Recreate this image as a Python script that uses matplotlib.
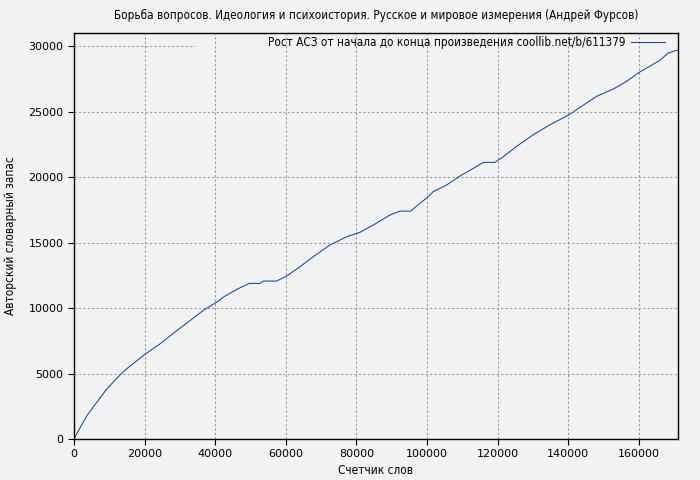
#!/usr/bin/env python3
"""Vocabulary growth chart: Fursov, 'Borba voprosov'."""

import matplotlib
matplotlib.use("Agg")
import matplotlib.pyplot as plt  # noqa: E402

# word counter vs. author's vocabulary
words = [
    0, 1890, 3780, 5660, 9440, 13220, 15100, 19820, 24540, 28320,
    33040, 36810, 40590, 42480, 46070, 49650, 52670, 53610, 57390, 60220,
    64000, 67770, 72490, 77210, 80990, 84770, 89490, 92320, 95340, 97980,
    100340, 101760, 105540, 109320, 113100, 115930, 119230, 121590, 125360, 130080,
    134800, 140270, 142350, 145180, 148010, 152730, 156500, 160090, 165950, 168300,
    171150,
]
vocab = [
    0, 940, 1830, 2520, 3870, 4940, 5400, 6410, 7300, 8110,
    9080, 9850, 10480, 10860, 11420, 11880, 11880, 12060, 12060, 12440,
    13150, 13920, 14810, 15440, 15780, 16340, 17100, 17400, 17400, 17990,
    18500, 18880, 19390, 20080, 20660, 21120, 21120, 21550, 22340, 23230,
    23990, 24760, 25140, 25650, 26160, 26720, 27300, 27990, 28910, 29470,
    29720,
]

title = "Борьба вопросов. Идеология и психоистория. Русское и мировое измерения (Андрей Фурсов)"
legend_label = "Рост АСЗ от начала до конца произведения coollib.net/b/611379"
xlabel = "Счетчик слов"
ylabel = "Авторский словарный запас"
xticks = list(range(0, 170000, 20000))
yticks = list(range(0, 30001, 5000))

bg = "#f2f2f2"
plt.rcParams["font.family"] = ["DejaVu Sans"]

fig = plt.figure(figsize=(7, 4.8), dpi=100, facecolor=bg)
ax = fig.add_axes([74 / 700, 1 - 439 / 480, 604 / 700, 406 / 480])
ax.set_facecolor(bg)

ax.plot(words, vocab, color="#0a4aad", linewidth=0.75, label=legend_label)

ax.set_xlim(0, 171100)
ax.set_ylim(0, 31000)
ax.set_xticks(xticks)
ax.set_yticks(yticks)
ax.tick_params(direction="out", length=4, width=0.8, labelsize=8, colors="black")

# grid: vertical lines full height, top horizontal line stops before the key
grid_kw = dict(color="#999999", linestyle=(0, (2, 2)), linewidth=0.8, zorder=0)
for x in xticks[1:]:
    ax.axvline(x, **grid_kw)
for y in yticks[1:]:
    ax.axhline(y, xmax=0.2 if y == yticks[-1] else 1, **grid_kw)

for s in ax.spines.values():
    s.set_linewidth(1.0)

ax.set_title(title, fontsize=8.4, fontstretch="condensed", pad=10)
ax.set_xlabel(xlabel, fontsize=8.5, fontstretch="condensed", labelpad=3)
ax.set_ylabel(ylabel, fontsize=8.5, fontstretch="condensed")
ax.yaxis.set_label_coords(-57 / 604, 0.5)

leg = ax.legend(loc="upper right", bbox_to_anchor=(591 / 604, 403 / 406),
                frameon=False, fontsize=8.4, markerfirst=False,
                handlelength=2.9, handletextpad=0.5, borderaxespad=0, borderpad=0)
for t in leg.get_texts():
    t.set_fontstretch("condensed")

fig.savefig("out.png", dpi=100, facecolor=bg)
plt.close(fig)
